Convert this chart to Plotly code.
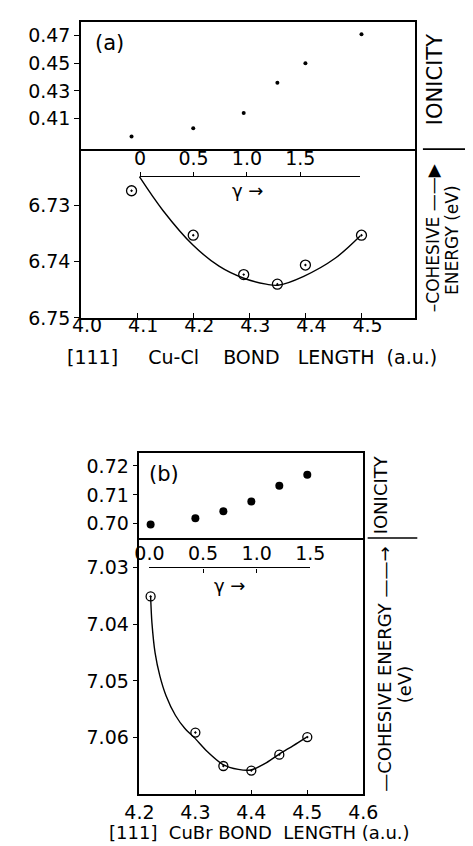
import plotly.graph_objects as go

# ---------------- data ----------------
bond_a = [4.09, 4.20, 4.29, 4.35, 4.40, 4.50]
ionicity_a = [0.397, 0.403, 0.414, 0.436, 0.450, 0.471]
cohesive_a = [6.7274, 6.7353, 6.7423, 6.7440, 6.7406, 6.7353]
fit_a_x = [4.104, 4.146, 4.199, 4.246, 4.289, 4.330, 4.351, 4.397, 4.453, 4.498]
fit_a_y = [6.7249, 6.7309, 6.7370, 6.7408, 6.7429, 6.7440, 6.7442, 6.7426, 6.7394, 6.7354]

bond_b = [4.22, 4.30, 4.35, 4.40, 4.45, 4.50]
ionicity_b = [0.6998, 0.7019, 0.7043, 0.7077, 0.7131, 0.7169]
cohesive_b = [7.0351, 7.0591, 7.0650, 7.0658, 7.0630, 7.0599]
fit_b_x = [4.2200, 4.2224, 4.2281, 4.2365, 4.2476, 4.2645, 4.2813, 4.2981, 4.3207,
           4.3487, 4.3768, 4.3992, 4.4273, 4.450, 4.475, 4.499]
fit_b_y = [7.0351, 7.0398, 7.0451, 7.0491, 7.0526, 7.0561, 7.0584, 7.0600, 7.0624,
           7.0647, 7.0656, 7.0657, 7.0644, 7.0629, 7.0614, 7.0599]

xticks_a = [4.0, 4.1, 4.2, 4.3, 4.4, 4.5]
xticks_b = [4.2, 4.3, 4.4, 4.5, 4.6]
ion_ticks_a = [0.41, 0.43, 0.45, 0.47]
coh_ticks_a = [6.73, 6.74, 6.75]
ion_ticks_b = [0.70, 0.71, 0.72]
coh_ticks_b = [7.03, 7.04, 7.05, 7.06]
gamma_ticks = [0.0, 0.5, 1.0, 1.5]
gamma_text_a = ["0", "0.5", "1.0", "1.5"]
gamma_text_b = ["0.0", "0.5", "1.0", "1.5"]

# ---------------- layout helpers ----------------
W, H = 473, 846
def px(x): return x / W
def py(y): return 1 - y / H

FONT = "DejaVu Sans"
BLACK = "black"

fig = go.Figure()

# panel (a)
fig.add_trace(go.Scatter(x=bond_a, y=ionicity_a, mode="markers", xaxis="x2", yaxis="y",
                         marker=dict(size=4, color=BLACK), hoverinfo="skip"))
fig.add_trace(go.Scatter(x=fit_a_x, y=fit_a_y, mode="lines", xaxis="x", yaxis="y2",
                         line=dict(color=BLACK, width=1.4, shape="spline", smoothing=1.0),
                         hoverinfo="skip"))
fig.add_trace(go.Scatter(x=bond_a, y=cohesive_a, mode="markers", xaxis="x", yaxis="y2",
                         marker=dict(size=10, color=BLACK, symbol="circle-open-dot",
                                     line=dict(width=1.3, color=BLACK)), hoverinfo="skip"))
fig.add_trace(go.Scatter(x=gamma_ticks, y=[None] * 4, mode="markers", xaxis="x5", yaxis="y2",
                         hoverinfo="skip"))

# panel (b)
fig.add_trace(go.Scatter(x=bond_b, y=ionicity_b, mode="markers", xaxis="x4", yaxis="y3",
                         marker=dict(size=8, color=BLACK), hoverinfo="skip"))
fig.add_trace(go.Scatter(x=fit_b_x, y=fit_b_y, mode="lines", xaxis="x3", yaxis="y4",
                         line=dict(color=BLACK, width=1.4, shape="spline", smoothing=0.8),
                         hoverinfo="skip"))
fig.add_trace(go.Scatter(x=bond_b, y=cohesive_b, mode="markers", xaxis="x3", yaxis="y4",
                         marker=dict(size=9, color=BLACK, symbol="circle-open-dot",
                                     line=dict(width=1.3, color=BLACK)), hoverinfo="skip"))
fig.add_trace(go.Scatter(x=gamma_ticks, y=[None] * 4, mode="markers", xaxis="x6", yaxis="y4",
                         hoverinfo="skip"))

tickfont = dict(family=FONT, size=19, color=BLACK)
common = dict(showgrid=False, zeroline=False, showline=True, linecolor=BLACK, linewidth=1.6,
              tickcolor=BLACK, tickwidth=1.4, tickfont=tickfont)

dom_a = [px(62), px(418.3)]
dom_b = [px(124.3), px(363.3)]

fig.update_layout(
    width=W, height=H, margin=dict(l=0, r=0, t=0, b=0),
    paper_bgcolor="white", plot_bgcolor="rgba(0,0,0,0)", showlegend=False,
    xaxis=dict(domain=dom_a, anchor="y2", range=[4.0, 4.595], tickvals=xticks_a,
               ticktext=[f"{v:.1f}" for v in xticks_a], ticks="inside", ticklen=5,
               ticklabelstandoff=-11, ticklabelshift=6, mirror=False, **common),
    xaxis2=dict(domain=dom_a, anchor="y", range=[4.0, 4.595], showticklabels=False, ticks="",
                mirror=True, **common),
    yaxis=dict(domain=[py(143), py(14)], anchor="x2", range=[0.3879, 0.48], tickvals=ion_ticks_a,
               ticktext=[f"{v:.2f}" for v in ion_ticks_a], ticks="outside", ticklen=5,
               mirror=True, **common),
    yaxis2=dict(domain=[py(314), py(143)], anchor="x", range=[6.75, 6.72], tickvals=coh_ticks_a,
                ticktext=[f"{v:.2f}" for v in coh_ticks_a], ticks="outside", ticklen=5,
                mirror=True, **common),
    xaxis3=dict(domain=dom_b, anchor="y4", range=[4.2, 4.6], tickvals=xticks_b,
                ticktext=[f"{v:.1f}" for v in xticks_b], ticks="inside", ticklen=5,
                mirror=False, **common),
    xaxis4=dict(domain=dom_b, anchor="y3", range=[4.2, 4.6], showticklabels=False, ticks="",
                mirror=True, **common),
    yaxis3=dict(domain=[py(537), py(450.7)], anchor="x4", range=[0.6951, 0.7245],
                tickvals=ion_ticks_b, ticktext=[f"{v:.2f}" for v in ion_ticks_b],
                ticks="outside", ticklen=5, mirror=True, **common),
    yaxis4=dict(domain=[py(796.7), py(537)], anchor="x3", range=[7.07, 7.0248],
                tickvals=coh_ticks_b, ticktext=[f"{v:.2f}" for v in coh_ticks_b],
                ticks="outside", ticklen=5, mirror=True, **common),
    xaxis5=dict(domain=[px(125), px(360)], anchor="free", position=py(170.7), side="top",
                range=[0, 2.06], tickvals=gamma_ticks, ticktext=gamma_text_a, ticks="outside",
                ticklen=4, showgrid=False, zeroline=False, showline=True, linecolor=BLACK,
                linewidth=1.4, tickcolor=BLACK, tickwidth=1.3, tickfont=tickfont),
    xaxis6=dict(domain=[px(135), px(306.7)], anchor="free", position=py(566.7), side="top",
                range=[0, 1.5], tickvals=gamma_ticks, ticktext=gamma_text_b, ticks="inside",
                ticklen=4, showgrid=False, zeroline=False, showline=True, linecolor=BLACK,
                linewidth=1.4, tickcolor=BLACK, tickwidth=1.3, tickfont=tickfont),
)

# divider extensions at right
fig.add_shape(type="line", xref="paper", yref="paper", x0=px(427), x1=px(473), y0=py(143),
              y1=py(143), line=dict(color=BLACK, width=1.6))
fig.add_shape(type="line", xref="paper", yref="paper", x0=px(368), x1=px(421), y0=py(537),
              y1=py(537), line=dict(color=BLACK, width=1.6))

def ann(text, x, y, size=18, angle=0, xanchor="center"):
    fig.add_annotation(text=text, x=px(x), y=py(y), xref="paper", yref="paper",
                       showarrow=False, textangle=angle, xanchor=xanchor, yanchor="middle",
                       font=dict(family=FONT, size=size, color=BLACK))

ann("(a)", 92, 35, 21)
ann("(b)", 151, 472, 21)
ann("γ →", 240, 185, 18)
ann("γ →", 220, 585, 18)
ann("[111]     Cu-Cl    BOND   LENGTH  (a.u.)", 245, 354, 19)
ann("[111]  CuBr BOND  LENGTH (a.u.)", 253, 835, 18)
ann("IONICITY", 440, 73, 21, -90)
ann("–COHESIVE ——▶", 438, 233, 17, -90)
ann("ENERGY (eV)", 458, 235, 17, -90)
ann("IONICITY", 382, 493, 18, -90)
ann("—COHESIVE ENERGY ——→", 386, 670, 18, -90)
ann("(eV)", 407, 686, 18, -90)

fig.write_html("out.html")
